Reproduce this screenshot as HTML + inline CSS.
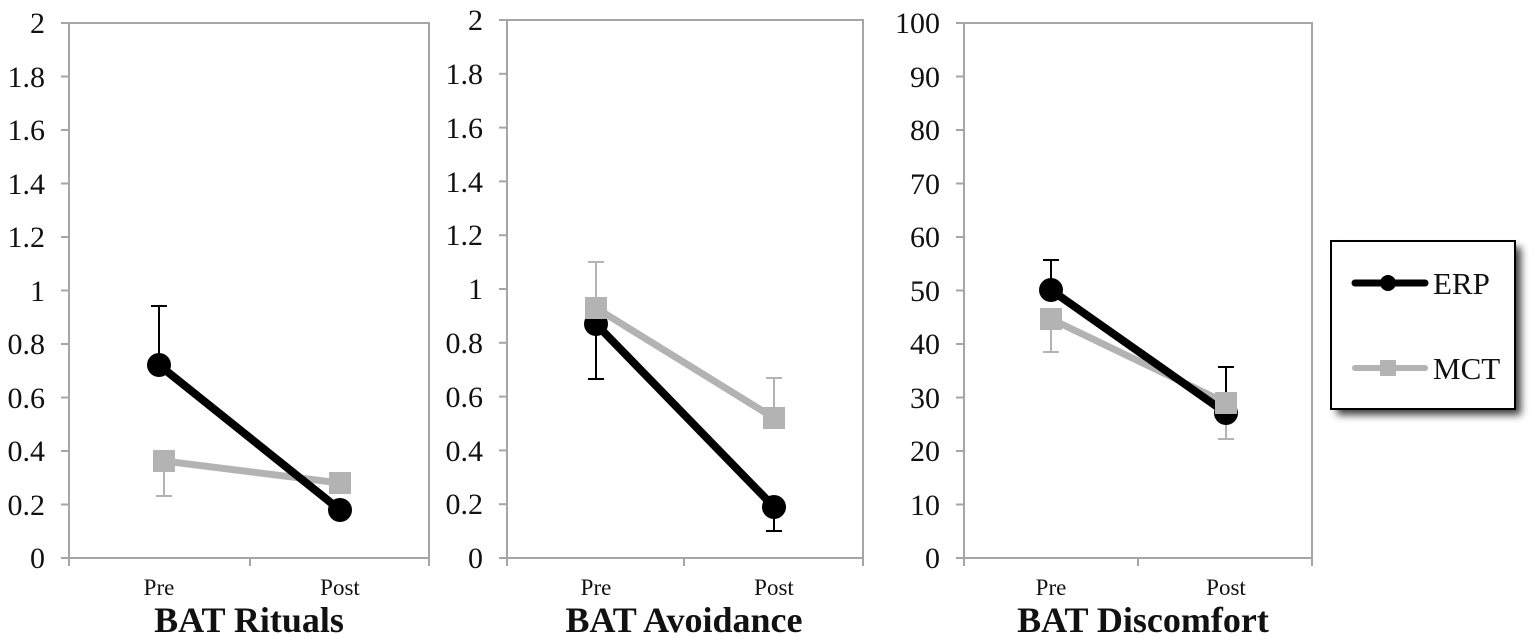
<!DOCTYPE html>
<html><head><meta charset="utf-8"><style>
html,body{margin:0;padding:0;background:#fff;}
svg{display:block;}
text{font-family:"Liberation Serif",serif;fill:#111;}
</style></head><body>
<svg width="1536" height="641" viewBox="0 0 1536 641" xmlns="http://www.w3.org/2000/svg">
<defs>
<filter id="sh" x="-20%" y="-20%" width="150%" height="150%"><feGaussianBlur stdDeviation="4"/></filter>
</defs>
<!-- Panel 1 -->
<g>
<rect x="69" y="23" width="360" height="535" fill="none" stroke="#a6a6a6" stroke-width="2"/>
<g stroke="#a6a6a6" stroke-width="2">
<line x1="61" y1="23" x2="69" y2="23"/><line x1="61" y1="76.5" x2="69" y2="76.5"/><line x1="61" y1="130" x2="69" y2="130"/><line x1="61" y1="183.5" x2="69" y2="183.5"/><line x1="61" y1="237" x2="69" y2="237"/><line x1="61" y1="290.5" x2="69" y2="290.5"/><line x1="61" y1="344" x2="69" y2="344"/><line x1="61" y1="397.5" x2="69" y2="397.5"/><line x1="61" y1="451" x2="69" y2="451"/><line x1="61" y1="504.5" x2="69" y2="504.5"/><line x1="61" y1="558" x2="69" y2="558"/>
<line x1="69" y1="558" x2="69" y2="566"/><line x1="250" y1="558" x2="250" y2="566"/><line x1="429" y1="558" x2="429" y2="566"/>
</g>
<g font-size="30" text-anchor="end">
<text x="45" y="33">2</text><text x="45" y="87">1.8</text><text x="45" y="140">1.6</text><text x="45" y="194">1.4</text><text x="45" y="247">1.2</text><text x="45" y="301">1</text><text x="45" y="354">0.8</text><text x="45" y="408">0.6</text><text x="45" y="461">0.4</text><text x="45" y="515">0.2</text><text x="45" y="568">0</text>
</g>
<text x="159" y="595" font-size="23" text-anchor="middle">Pre</text>
<text x="340" y="595" font-size="23" text-anchor="middle">Post</text>
<text x="249" y="632" font-size="36" font-weight="bold" text-anchor="middle">BAT Rituals</text>
<g stroke="#b3b3b3" stroke-width="2"><line x1="164" y1="461" x2="164" y2="496"/><line x1="156" y1="496" x2="172" y2="496"/></g>
<g stroke="#000" stroke-width="2"><line x1="159" y1="365" x2="159" y2="306"/><line x1="151" y1="306" x2="167" y2="306"/></g>
<line x1="164" y1="461" x2="340" y2="483" stroke="#b3b3b3" stroke-width="7"/>
<line x1="159" y1="365" x2="340" y2="510" stroke="#000" stroke-width="8"/>
<rect x="153" y="450" width="22" height="22" fill="#b3b3b3"/>
<rect x="329" y="472" width="22" height="22" fill="#b3b3b3"/>
<circle cx="159" cy="365" r="12" fill="#000"/>
<circle cx="340" cy="510" r="12" fill="#000"/>
</g>
<!-- Panel 2 -->
<g>
<rect x="507" y="20" width="356" height="538" fill="none" stroke="#a6a6a6" stroke-width="2"/>
<g stroke="#a6a6a6" stroke-width="2">
<line x1="499" y1="20" x2="507" y2="20"/><line x1="499" y1="73.8" x2="507" y2="73.8"/><line x1="499" y1="127.6" x2="507" y2="127.6"/><line x1="499" y1="181.4" x2="507" y2="181.4"/><line x1="499" y1="235.2" x2="507" y2="235.2"/><line x1="499" y1="289" x2="507" y2="289"/><line x1="499" y1="342.8" x2="507" y2="342.8"/><line x1="499" y1="396.6" x2="507" y2="396.6"/><line x1="499" y1="450.4" x2="507" y2="450.4"/><line x1="499" y1="504.2" x2="507" y2="504.2"/><line x1="499" y1="558" x2="507" y2="558"/>
<line x1="507" y1="558" x2="507" y2="566"/><line x1="684" y1="558" x2="684" y2="566"/><line x1="863" y1="558" x2="863" y2="566"/>
</g>
<g font-size="30" text-anchor="end">
<text x="483" y="30">2</text><text x="483" y="84">1.8</text><text x="483" y="138">1.6</text><text x="483" y="192">1.4</text><text x="483" y="245">1.2</text><text x="483" y="299">1</text><text x="483" y="353">0.8</text><text x="483" y="407">0.6</text><text x="483" y="461">0.4</text><text x="483" y="514">0.2</text><text x="483" y="568">0</text>
</g>
<text x="596" y="595" font-size="23" text-anchor="middle">Pre</text>
<text x="774" y="595" font-size="23" text-anchor="middle">Post</text>
<text x="684" y="632" font-size="36" font-weight="bold" text-anchor="middle">BAT Avoidance</text>
<g stroke="#b3b3b3" stroke-width="2"><line x1="596" y1="308" x2="596" y2="262"/><line x1="588" y1="262" x2="604" y2="262"/><line x1="774" y1="418" x2="774" y2="378"/><line x1="766" y1="378" x2="782" y2="378"/></g>
<g stroke="#000" stroke-width="2"><line x1="596" y1="324" x2="596" y2="379"/><line x1="588" y1="379" x2="604" y2="379"/><line x1="774" y1="507" x2="774" y2="531"/><line x1="766" y1="531" x2="782" y2="531"/></g>
<line x1="596" y1="308" x2="774" y2="418" stroke="#b3b3b3" stroke-width="7"/>
<line x1="596" y1="324" x2="774" y2="507" stroke="#000" stroke-width="8"/>
<circle cx="596" cy="324" r="12" fill="#000"/>
<circle cx="774" cy="507" r="12" fill="#000"/>
<rect x="585" y="297" width="22" height="22" fill="#b3b3b3"/>
<rect x="763" y="407" width="22" height="22" fill="#b3b3b3"/>
</g>
<!-- Panel 3 -->
<g>
<rect x="964" y="23" width="348" height="535" fill="none" stroke="#a6a6a6" stroke-width="2"/>
<g stroke="#a6a6a6" stroke-width="2">
<line x1="956" y1="23" x2="964" y2="23"/><line x1="956" y1="76.5" x2="964" y2="76.5"/><line x1="956" y1="130" x2="964" y2="130"/><line x1="956" y1="183.5" x2="964" y2="183.5"/><line x1="956" y1="237" x2="964" y2="237"/><line x1="956" y1="290.5" x2="964" y2="290.5"/><line x1="956" y1="344" x2="964" y2="344"/><line x1="956" y1="397.5" x2="964" y2="397.5"/><line x1="956" y1="451" x2="964" y2="451"/><line x1="956" y1="504.5" x2="964" y2="504.5"/><line x1="956" y1="558" x2="964" y2="558"/>
<line x1="964" y1="558" x2="964" y2="566"/><line x1="1138" y1="558" x2="1138" y2="566"/><line x1="1312" y1="558" x2="1312" y2="566"/>
</g>
<g font-size="30" text-anchor="end">
<text x="940" y="33">100</text><text x="940" y="87">90</text><text x="940" y="140">80</text><text x="940" y="194">70</text><text x="940" y="247">60</text><text x="940" y="301">50</text><text x="940" y="354">40</text><text x="940" y="408">30</text><text x="940" y="461">20</text><text x="940" y="515">10</text><text x="940" y="568">0</text>
</g>
<text x="1051" y="595" font-size="23" text-anchor="middle">Pre</text>
<text x="1226" y="595" font-size="23" text-anchor="middle">Post</text>
<text x="1143" y="632" font-size="36" font-weight="bold" text-anchor="middle">BAT Discomfort</text>
<g stroke="#b3b3b3" stroke-width="2"><line x1="1051" y1="319" x2="1051" y2="352"/><line x1="1043" y1="352" x2="1059" y2="352"/><line x1="1226" y1="403" x2="1226" y2="439"/><line x1="1218" y1="439" x2="1234" y2="439"/></g>
<g stroke="#000" stroke-width="2"><line x1="1051" y1="290" x2="1051" y2="260"/><line x1="1043" y1="260" x2="1059" y2="260"/><line x1="1226" y1="413" x2="1226" y2="367"/><line x1="1218" y1="367" x2="1234" y2="367"/></g>
<line x1="1051" y1="319" x2="1226" y2="403" stroke="#b3b3b3" stroke-width="7"/>
<line x1="1051" y1="290" x2="1226" y2="413" stroke="#000" stroke-width="8"/>
<circle cx="1051" cy="290" r="12" fill="#000"/>
<circle cx="1226" cy="413" r="12" fill="#000"/>
<rect x="1040" y="308" width="22" height="22" fill="#b3b3b3"/>
<rect x="1215" y="392" width="22" height="22" fill="#b3b3b3"/>
</g>
<!-- Legend -->
<rect x="1337" y="247" width="184" height="168" fill="#000" opacity="0.75" filter="url(#sh)"/>
<rect x="1331" y="241" width="184" height="168" fill="#fff" stroke="#000" stroke-width="2"/>
<line x1="1355" y1="283" x2="1425" y2="283" stroke="#000" stroke-width="7" stroke-linecap="round"/>
<circle cx="1388" cy="283" r="8" fill="#000"/>
<text x="1433" y="294" font-size="31">ERP</text>
<line x1="1355" y1="368" x2="1425" y2="368" stroke="#b3b3b3" stroke-width="6" stroke-linecap="round"/>
<rect x="1380" y="360" width="16" height="16" fill="#b3b3b3"/>
<text x="1433" y="379" font-size="31">MCT</text>
</svg>
</body></html>
